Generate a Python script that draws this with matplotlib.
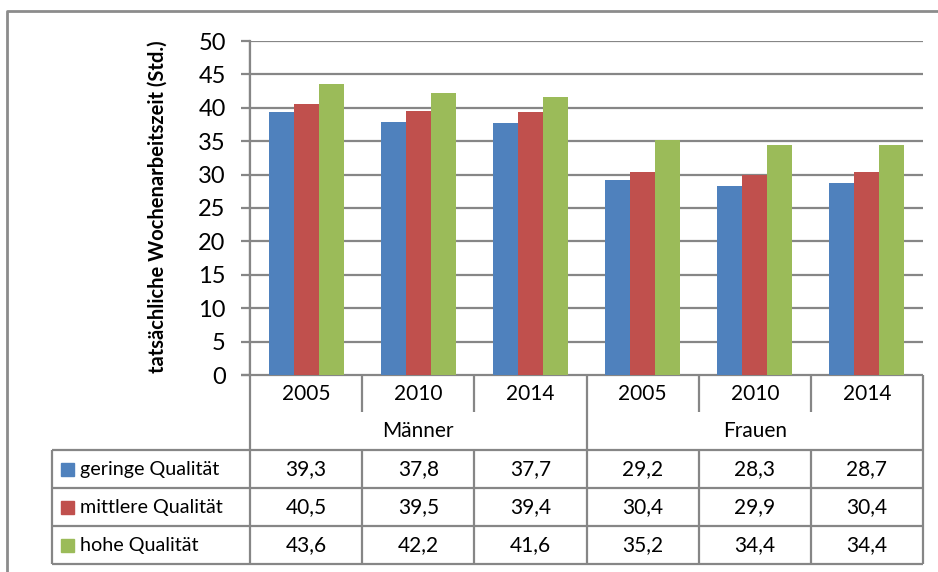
import matplotlib.pyplot as plt
import numpy as np

plt.rcParams["font.family"] = ["Lato", "DejaVu Sans"]

years = ["2005", "2010", "2014", "2005", "2010", "2014"]
groups = ["Männer", "Frauen"]
series = ["geringe Qualität", "mittlere Qualität", "hohe Qualität"]
geringe = [39.3, 37.8, 37.7, 29.2, 28.3, 28.7]
mittlere = [40.5, 39.5, 39.4, 30.4, 29.9, 30.4]
hohe = [43.6, 42.2, 41.6, 35.2, 34.4, 34.4]
values = [geringe, mittlere, hohe]
colors = ["#4F81BD", "#C0504D", "#9BBB59"]
grid_c = "#868686"

W, H = 938, 572
fig = plt.figure(figsize=(W / 100, H / 100), dpi=100)


def box(l, t, r, b):
    return [l / W, 1 - b / H, (r - l) / W, (b - t) / H]


# plot area in pixels
L, T, R, B = 250, 41, 923, 375
ax = fig.add_axes(box(L, T, R, B))
n = len(years)
x = np.arange(n)
w = 0.223
for i, (vals, c) in enumerate(zip(values, colors)):
    ax.bar(x + (i - 1) * w, vals, w, color=c, zorder=3)
ax.set_xlim(-0.5, n - 0.5)
ax.set_ylim(0, 50)
ax.set_yticks(range(0, 51, 5))
ax.yaxis.grid(True, color=grid_c, lw=1.6)
ax.set_axisbelow(True)
ax.set_xticks([])
for s in ["top", "right", "bottom"]:
    ax.spines[s].set_visible(False)
ax.spines["left"].set_color(grid_c)
ax.spines["left"].set_linewidth(1.6)
ax.tick_params(axis="y", length=6.5, width=1.6, color=grid_c, pad=11, labelsize=17)

# data table below the plot, drawn in pixel coords
tb = fig.add_axes([0, 0, 1, 1], zorder=-1)
tb.set_xlim(0, W)
tb.set_ylim(H, 0)
tb.axis("off")
tb.text(158, 207, "tatsächliche Wochenarbeitszeit (Std.)", rotation=90,
        ha="center", va="center", fontsize=14.5, fontweight="bold")

lk = dict(color=grid_c, lw=1.6, solid_capstyle="butt")
colw = (R - L) / n
edges = [L + k * colw for k in range(n + 1)]
rows = [375, 412, 450, 488, 526, 564]
TL = 52

# outer frame
tb.plot([7, 7, W + 5], [H + 5, 11, 11], color="#8c8c8c", lw=2)

tb.plot([241, R], [rows[0], rows[0]], **lk)
for y in rows[2:]:
    tb.plot([TL, R], [y, y], **lk)
tb.plot([TL, TL], [rows[2], rows[-1]], **lk)
tb.plot([L, L], [T, rows[-1]], **lk)
for k in range(1, n + 1):
    if k % 3 == 0:
        tb.plot([edges[k], edges[k]], [rows[0], rows[-1]], **lk)
    else:
        tb.plot([edges[k], edges[k]], [rows[0], rows[1]], **lk)
        tb.plot([edges[k], edges[k]], [rows[2], rows[-1]], **lk)

fs = 15
for k, yr in enumerate(years):
    cx = (edges[k] + edges[k + 1]) / 2
    tb.text(cx, (rows[0] + rows[1]) / 2, yr, ha="center", va="center", fontsize=fs)
for g, name in enumerate(groups):
    cx = (edges[3 * g] + edges[3 * g + 3]) / 2
    tb.text(cx, (rows[1] + rows[2]) / 2, name, ha="center", va="center", fontsize=fs)
for r, (name, vals, c) in enumerate(zip(series, values, colors)):
    cy = (rows[2 + r] + rows[3 + r]) / 2
    tb.add_patch(plt.Rectangle((61, cy - 6.5), 13, 13, color=c))
    tb.text(80, cy, name, ha="left", va="center", fontsize=14.2)
    for k, v in enumerate(vals):
        cx = (edges[k] + edges[k + 1]) / 2
        tb.text(cx, cy, f"{v:.1f}".replace(".", ","), ha="center", va="center", fontsize=fs)

fig.savefig("out.png", dpi=100)
